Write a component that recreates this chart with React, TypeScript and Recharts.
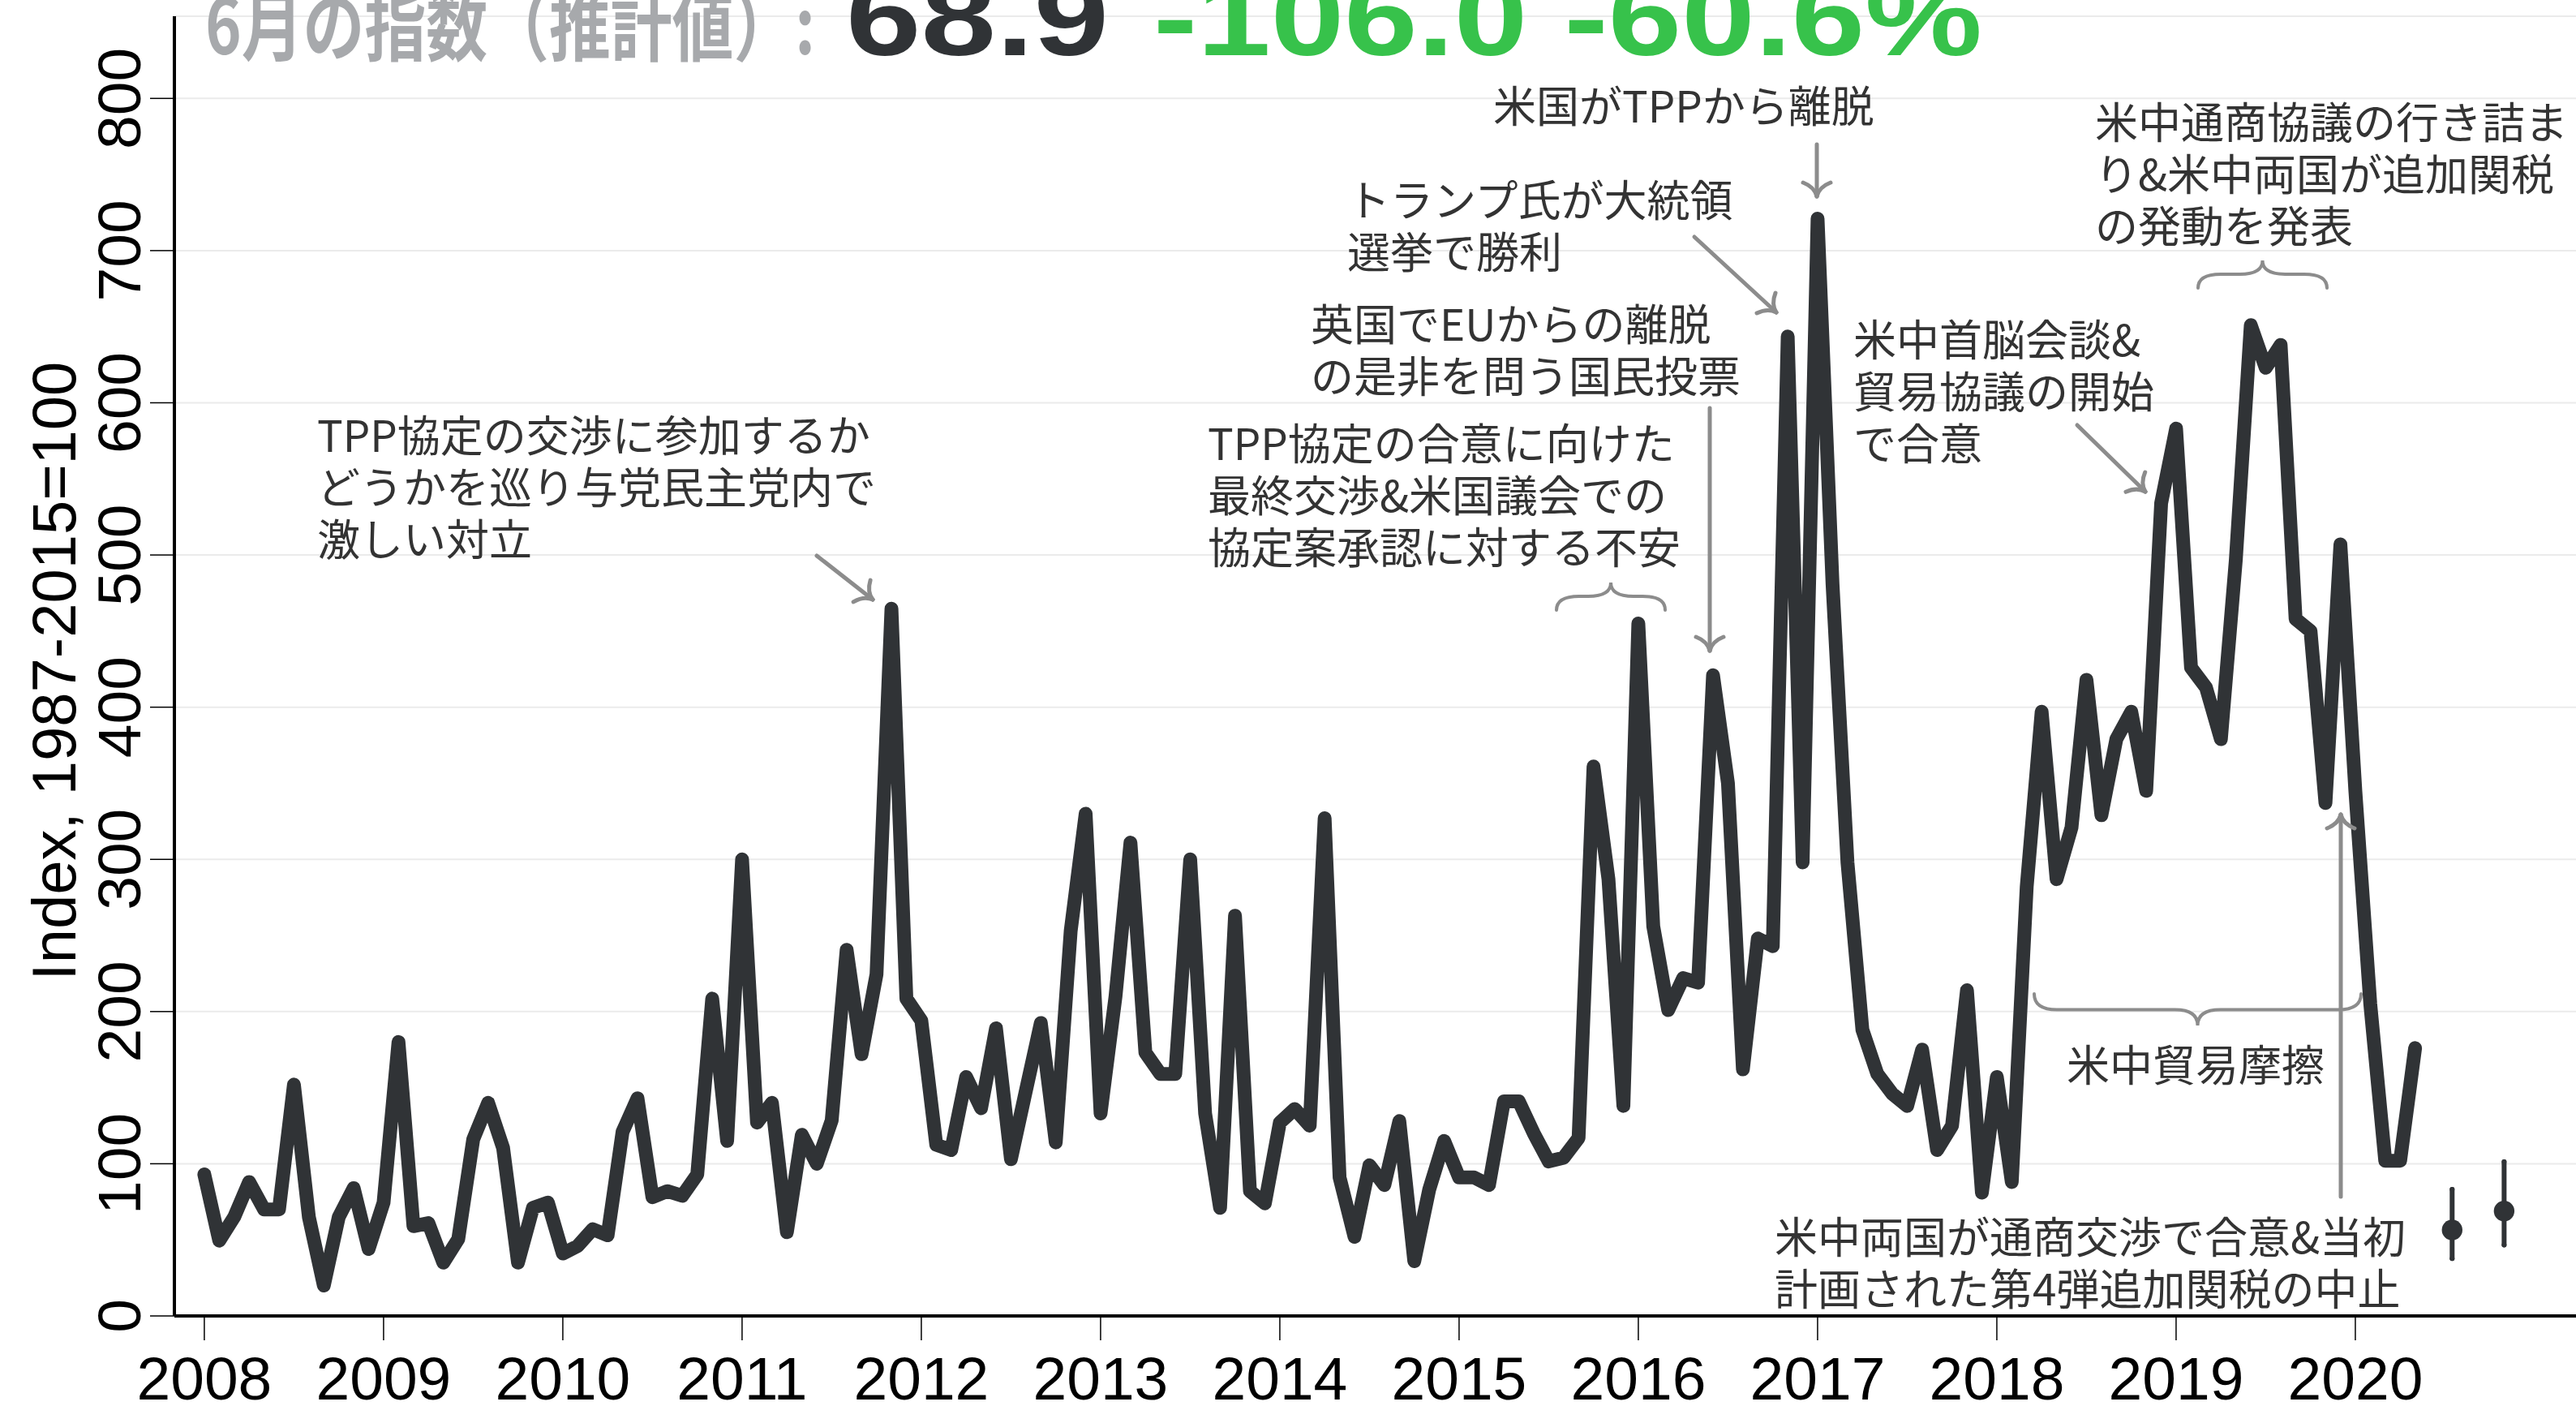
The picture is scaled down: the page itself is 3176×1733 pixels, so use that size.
import { ComposedChart, Line, Scatter, ErrorBar, XAxis, YAxis, CartesianGrid } from "recharts";

// monthly index, Jan 2008 .. May 2020
const startYear = 2008;
const monthlyIndex = [
  93, 49.5, 65, 88, 70, 70, 152, 65, 20, 65, 84, 44,
  74.5, 180, 59, 61, 35, 50.5, 116, 140, 110.5, 35, 71, 74.5,
  41, 46, 57, 53, 121, 143, 78, 82, 79, 93, 208.5, 115,
  300, 127, 140, 55, 119, 100, 128.5, 240.6, 172, 224.5, 464.7, 208.5,
  194, 112.5, 109, 157, 136.5, 189, 103, 148, 192.5, 114, 253, 330,
  133, 210, 311, 173, 159, 159, 300, 133, 71, 263, 82, 74,
  127, 136, 125, 327, 91, 52, 99, 86, 128, 36, 83, 115,
  91, 91, 86, 141, 141, 120, 101.5, 104, 117, 361, 287, 138,
  455, 256, 201, 222, 219, 421, 350, 162, 248, 243, 643.6, 298,
  721, 481, 298, 188, 159, 146, 138, 175, 109, 125, 214, 81,
  157, 88, 282, 397, 287, 321, 418, 329, 379, 397, 345, 534,
  583, 426, 413, 379, 497, 651, 623, 638, 458, 450, 337, 507,
  345, 205, 102, 102, 176,
];

// estimates with ranges
const estPos = [2020.54, 2020.83];
const estValue = [56.5, 68.9];
const estLow = [37.7, 46.6];
const estHigh = [83.2, 101.3];

const yearTicks = [2008, 2009, 2010, 2011, 2012, 2013, 2014, 2015, 2016, 2017, 2018, 2019, 2020];
const indexTicks = [0, 100, 200, 300, 400, 500, 600, 700, 800];

const lineData = monthlyIndex.map((v, i) => ({ t: startYear + i / 12, v }));
const estData = estPos.map((t, i) => ({
  t,
  v: estValue[i],
  err: [estValue[i] - estLow[i], estHigh[i] - estValue[i]],
}));

const W = 3176;
const H = 1733;
const dark = "#303336";
const gray = "#8c8c8c";
const latin = "'Liberation Sans', Arial, sans-serif";
const jp = "'Noto Sans CJK JP', 'Noto Sans', sans-serif";

const XTick = ({ x, y, payload }: any) => (
  <text x={x} y={y} dy={53} textAnchor="middle" fontSize={75} fontFamily={latin} fill="#000">
    {payload.value}
  </text>
);

const YTick = ({ x, y, payload }: any) => (
  <text x={x} y={y} transform={`rotate(-90 ${x} ${y})`} textAnchor="middle" fontSize={75} fontFamily={latin} fill="#000">
    {payload.value}
  </text>
);

const EstDot = ({ cx, cy }: any) => <circle cx={cx} cy={cy} r={12.7} fill={dark} />;

function Arrow({ x1, y1, x2, y2 }: { x1: number; y1: number; x2: number; y2: number }) {
  const len = Math.hypot(x2 - x1, y2 - y1);
  const dx = (x2 - x1) / len;
  const dy = (y2 - y1) / len;
  const rot = (a: number) => {
    const r = (a * Math.PI) / 180;
    return [dx * Math.cos(r) - dy * Math.sin(r), dx * Math.sin(r) + dy * Math.cos(r)];
  };
  const L = 24;
  const barb = (a: number) => {
    const [ex, ey] = rot(a);
    const [cx, cy] = rot(a / 3);
    return `M${x2 - L * ex},${y2 - L * ey} Q${x2 - L * 0.5 * cx},${y2 - L * 0.5 * cy} ${x2},${y2}`;
  };
  return (
    <g stroke={gray} strokeWidth={5} fill="none" strokeLinecap="round">
      <line x1={x1} y1={y1} x2={x2} y2={y2} />
      <path d={barb(45)} />
      <path d={barb(-45)} />
    </g>
  );
}

// horizontal curly brace; dir = -1 tip up, 1 tip down
function Brace({ x1, x2, y, h, dir }: { x1: number; x2: number; y: number; h: number; dir: number }) {
  const xm = (x1 + x2) / 2;
  const ym = y + (dir * h) / 2;
  const yt = y + dir * h;
  const r = 28;
  const d = `M${x1},${y} Q${x1},${ym} ${x1 + r},${ym} L${xm - r},${ym} Q${xm},${ym} ${xm},${yt} Q${xm},${ym} ${xm + r},${ym} L${x2 - r},${ym} Q${x2},${ym} ${x2},${y}`;
  return <path d={d} stroke={gray} strokeWidth={4} fill="none" strokeLinecap="round" />;
}

function Note({ x, y, lines }: { x: number; y: number; lines: string[] }) {
  return (
    <text x={x} y={y} fontSize={53} fontFamily={jp} fill="#333">
      {lines.map((s, i) => (
        <tspan key={i} x={x} dy={i === 0 ? 0 : 64}>
          {s}
        </tspan>
      ))}
    </text>
  );
}

function Overlay() {
  return (
    <svg width={W} height={H} style={{ position: "absolute", left: 0, top: 0, pointerEvents: "none" }}>
      <text x={253} y={67} fontSize={96} fontWeight={700} fontFamily={jp} fill="#a7a9ac" textLength={752} lengthAdjust="spacingAndGlyphs">
        6月の指数（推計値）:
      </text>
      <text x={1043} y={68} fontSize={136} fontWeight={700} fontFamily={latin} fill={dark} textLength={324} lengthAdjust="spacingAndGlyphs">
        68.9
      </text>
      <text x={1422} y={68} fontSize={136} fontWeight={700} fontFamily={latin} fill="#37c24b" textLength={1022} lengthAdjust="spacingAndGlyphs">
        -106.0 -60.6%
      </text>

      <text x={93} y={827} transform="rotate(-90 93 827)" textAnchor="middle" fontSize={76} fontFamily={latin} fill="#000">
        Index, 1987-2015=100
      </text>

      <Note x={391} y={557} lines={["TPP協定の交渉に参加するか", "どうかを巡り与党民主党内で", "激しい対立"]} />
      <Arrow x1={1007} y1={685} x2={1076} y2={739} />

      <Note x={1489} y={567} lines={["TPP協定の合意に向けた", "最終交渉&米国議会での", "協定案承認に対する不安"]} />
      <Brace x1={1919} x2={2053} y={752} h={34} dir={-1} />

      <Note x={1616} y={420} lines={["英国でEUからの離脱", "の是非を問う国民投票"]} />
      <Arrow x1={2108} y1={503} x2={2108} y2={802} />

      <Note x={1661} y={267} lines={["トランプ氏が大統領", "選挙で勝利"]} />
      <Arrow x1={2089} y1={292} x2={2190} y2={385} />

      <Note x={1841} y={151} lines={["米国がTPPから離脱"]} />
      <Arrow x1={2240} y1={178} x2={2240} y2={242} />

      <Note x={2285} y={439} lines={["米中首脳会談&", "貿易協議の開始", "で合意"]} />
      <Arrow x1={2561} y1={524} x2={2645} y2={606} />

      <Note x={2583} y={171} lines={["米中通商協議の行き詰ま", "り&米中両国が追加関税", "の発動を発表"]} />
      <Brace x1={2710} x2={2869} y={355} h={34} dir={-1} />

      <Brace x1={2508} x2={2911} y={1225} h={39} dir={1} />
      <Note x={2548} y={1333} lines={["米中貿易摩擦"]} />

      <Note x={2188} y={1545} lines={["米中両国が通商交渉で合意&当初", "計画された第4弾追加関税の中止"]} />
      <Arrow x1={2886} y1={1475} x2={2886} y2={1004} />
    </svg>
  );
}

export default function App() {
  return (
    <div style={{ position: "absolute", left: 0, top: 0, width: W, height: H, background: "#fff" }}>
      <ComposedChart width={W} height={H} margin={{ top: 20, right: 0, left: 0, bottom: 0 }}>
        <CartesianGrid vertical={false} stroke="#ebebeb" strokeWidth={2} />
        <XAxis
          type="number"
          dataKey="t"
          domain={[2007.833, 2021.231]}
          ticks={yearTicks}
          height={111}
          tickSize={30}
          tickMargin={20}
          axisLine={{ stroke: "#000", strokeWidth: 4 }}
          tickLine={{ stroke: "#000", strokeWidth: 1.5 }}
          tick={<XTick />}
          interval={0}
        />
        <YAxis
          type="number"
          domain={[0, 854]}
          ticks={indexTicks}
          width={215}
          tickSize={30}
          tickMargin={12}
          axisLine={{ stroke: "#000", strokeWidth: 4 }}
          tickLine={{ stroke: "#000", strokeWidth: 1.5 }}
          tick={<YTick />}
          interval={0}
        />
        <Line
          data={lineData}
          dataKey="v"
          type="linear"
          stroke={dark}
          strokeWidth={17}
          strokeLinejoin="round"
          strokeLinecap="round"
          dot={false}
          activeDot={false}
          isAnimationActive={false}
        />
        <Scatter data={estData} dataKey="v" shape={<EstDot />} isAnimationActive={false}>
          <ErrorBar dataKey="err" direction="y" width={0} stroke={dark} strokeWidth={6} strokeLinecap="round" isAnimationActive={false} />
        </Scatter>
      </ComposedChart>
      <Overlay />
    </div>
  );
}
